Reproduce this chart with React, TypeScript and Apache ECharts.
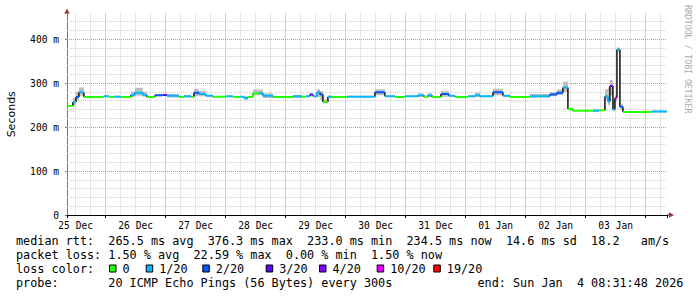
import React, { useEffect, useRef } from 'react';
import * as echarts from 'echarts';

// time in hours after 25 Dec 00:00; window = 25 Dec 08:31:48 .. 04 Jan 08:31:48
const T_START = 8.53;
const T_END = 248.53;
const Y_MAX = 458;

const dayLabels = ['25 Dec', '26 Dec', '27 Dec', '28 Dec', '29 Dec', '30 Dec', '31 Dec', '01 Jan', '02 Jan', '03 Jan'];

// median RTT steps (start hour, ms, loss count out of 20, smoke low/high ms)
const segStart = [8.53, 10.9, 12.1, 13.3, 15.3, 23.3, 25.3, 27.3, 30.1, 34.1,
  35.7, 38.9, 40.5, 43.7, 46.9, 48.5, 53.3, 55.3, 58.1, 59.3,
  61.3, 64.1, 66.9, 72.1, 74.9, 77.7, 79.3, 80.9, 82.9, 85.3,
  86.9, 90.9, 98.9, 102.5, 104.1, 105.7, 106.9, 108.5, 109.7, 110.9,
  112.9, 114.5, 120.5, 131.7, 135.7, 139.7, 143.7, 148.9, 151.3, 152.9,
  154.5, 158.1, 161.3, 163.7, 168.9, 171.7, 173.7, 178.9, 182.9, 185.7,
  193.7, 201.7, 204.5, 206.9, 208.9, 210.9, 218.9, 221.3, 223.7, 224.9,
  225.7, 226.9, 227.7, 228.5, 229.7, 230.9, 242.5];
const median = [248, 257, 268, 279, 268, 270, 268, 269, 268, 273,
  278, 273, 268, 272, 273, 271, 268, 270, 268, 278,
  275, 271, 269, 270, 268, 269, 266, 268, 277, 277,
  271, 268, 270, 269, 270, 274, 270, 279, 274, 257,
  269, 268, 269, 279, 270, 268, 270, 272, 269, 272,
  268, 275, 271, 268, 270, 272, 270, 279, 271, 268,
  270, 274, 278, 290, 241, 237, 237, 238, 270, 258,
  293, 240, 266, 376, 246, 234, 235];
const lossLevel = [0, 1, 2, 1, 0, 1, 0, 1, 0, 1,
  1, 1, 0, 2, 3, 1, 0, 1, 0, 2,
  1, 1, 0, 1, 0, 1, 1, 0, 0, 1,
  1, 0, 1, 0, 1, 3, 1, 1, 2, 0,
  1, 0, 1, 2, 1, 0, 1, 1, 0, 1,
  0, 2, 1, 0, 1, 1, 1, 2, 1, 0,
  1, 2, 2, 1, 0, 0, 1, 0, 1, 1,
  3, 1, 10, 1, 2, 0, 1];
const smokeLo = [246, 250, 260, 271, 268, 268, 268, 268, 268, 268,
  271, 269, 268, 270, 271, 267, 268, 267, 268, 270,
  270, 269, 269, 269, 268, 268, 262, 268, 272, 272,
  266, 268, 266, 269, 269, 272, 269, 268, 262, 254,
  266, 268, 267, 272, 268, 268, 269, 268, 269, 268,
  268, 269, 269, 268, 269, 268, 269, 272, 269, 268,
  267, 270, 273, 280, 238, 237, 235, 238, 262, 250,
  272, 236, 258, 370, 240, 233, 233];
const smokeHi = [250, 266, 280, 290, 268, 272, 268, 271, 268, 280,
  289, 280, 268, 274, 275, 275, 268, 273, 268, 287,
  282, 273, 269, 271, 268, 270, 270, 268, 285, 285,
  276, 268, 273, 269, 271, 276, 271, 286, 282, 262,
  271, 268, 271, 286, 272, 268, 271, 276, 269, 277,
  268, 281, 273, 268, 271, 278, 271, 287, 273, 268,
  275, 279, 285, 303, 243, 237, 240, 238, 286, 290,
  307, 260, 272, 381, 252, 235, 237];

const lossKeys = [0, 1, 2, 3, 4, 10, 19];
const lossLabels = ['0', '1/20', '2/20', '3/20', '4/20', '10/20', '19/20'];
const lossColors = ['#26ff00', '#00b8ff', '#0059ff', '#5e00ff', '#7e00ff', '#dd00ff', '#ff0000'];

const legendLines = [
  'median rtt:  265.5 ms avg  376.3 ms max  233.0 ms min  234.5 ms now  14.6 ms sd  18.2   am/s',
  'packet loss: 1.50 % avg  22.59 % max  0.00 % min  1.50 % now',
  'loss color:',
  ('probe:'.padEnd(13) + '20 ICMP Echo Pings (56 Bytes) every 300s').padEnd(65) + 'end: Sun Jan  4 08:31:48 2026',
];

const MONO = 'DejaVu Sans Mono';
const MAJOR_COLOR = '#e98080';
const MINOR_COLOR = '#cfcfcf';

function colorOf(l: number) {
  const k = lossKeys.indexOf(l);
  return k >= 0 ? lossColors[k] : '#000';
}
function spo(p: number) {
  const d = Math.round(p * 2);
  return (d + 1) % 2 === 0 ? d / 2 : (d + 1) / 2;
}

export default function App() {
  const ref = useRef<HTMLDivElement>(null);
  useEffect(() => {
    if (!ref.current) return;
    const chart = echarts.init(ref.current, undefined, { renderer: 'svg' });

    const items = segStart.map((t, i) => [
      t,
      i < segStart.length - 1 ? segStart[i + 1] : T_END,
      median[i],
      lossLevel[i],
      smokeLo[i],
      smokeHi[i],
      i > 0 ? median[i - 1] : median[i],
      i > 0 ? lossLevel[i - 1] : lossLevel[i],
    ]);
    const itemDims = ['t0', 't1', 'v', 'loss', 'lo', 'hi', 'pv', 'pl'];

    // grid line positions: every 6 h (major at midnight), every 20 ms (major every 100 ms)
    const vLines: number[][] = [];
    for (let h = Math.ceil(T_START / 6) * 6; h < T_END; h += 6) vLines.push([h, 0, h % 24 === 0 ? 1 : 0]);
    const hLines: number[][] = [];
    for (let v = 20; v < Y_MAX; v += 20) hLines.push([T_START, v, v % 100 === 0 ? 1 : 0]);

    const graphics: any[] = [];
    const CW = 7.1;
    const X0 = 16;
    const lineY = [240.7, 255, 269.3, 283.3];
    legendLines.forEach((s, li) => {
      const re = /\S+/g;
      let m: RegExpExecArray | null;
      while ((m = re.exec(s))) {
        graphics.push({
          type: 'text', x: X0 + m.index * CW, y: lineY[li], silent: true,
          style: { text: m[0], fontFamily: MONO, fontSize: 11.8, fill: '#000', verticalAlign: 'middle', align: 'left' },
        });
      }
    });
    const boxX = [109, 145.7, 202.3, 265.7, 319, 376.7, 433.3];
    lossLabels.forEach((lab, i) => {
      graphics.push({
        type: 'rect', silent: true,
        shape: { x: boxX[i] + 0.5, y: 265, width: 6.5, height: 7 },
        style: { fill: lossColors[i], stroke: '#000', lineWidth: 1 },
      });
      graphics.push({
        type: 'text', x: boxX[i] + 13.5, y: lineY[2], silent: true,
        style: { text: lab, fontFamily: MONO, fontSize: 11.8, fill: '#000', verticalAlign: 'middle', align: 'left' },
      });
    });
    // arrows
    graphics.push({ type: 'polygon', silent: true, shape: { points: [[64.3, 13.5], [69.7, 13.5], [67, 8.5]] }, style: { fill: '#a33' } });
    graphics.push({ type: 'line', silent: true, shape: { x1: 667, y1: 215, x2: 669.5, y2: 215 }, style: { stroke: '#000', lineWidth: 1 } });
    graphics.push({ type: 'polygon', silent: true, shape: { points: [[669, 212.3], [669, 217.7], [674, 215]] }, style: { fill: '#a33' } });
    graphics.push({
      type: 'text', x: 687.5, y: 5, rotation: -Math.PI / 2, silent: true,
      style: { text: 'RRDTOOL / TOBI OETIKER', fontFamily: MONO, fontSize: 8.2, fill: '#aaaaaa', align: 'left', verticalAlign: 'middle' },
    });

    const option: any = {
      animation: false,
      backgroundColor: '#ffffff',
      grid: { left: 67, right: 30, top: 13.5, bottom: 82, containLabel: false, outerBoundsMode: 'none' },
      xAxis: [
        {
          type: 'value', min: T_START, max: T_END, minInterval: 6, maxInterval: 6, position: 'bottom',
          axisLine: { show: true, onZero: false, lineStyle: { color: '#000', width: 1 } },
          axisTick: { show: false },
          axisLabel: {
            show: true, margin: 5, fontFamily: MONO, fontSize: 9.6, color: '#000',
            formatter: (v: number) => {
              const k = (v - 12) / 24;
              const r = Math.round(k);
              return Math.abs(k - r) < 1e-6 && dayLabels[r] ? dayLabels[r] : '';
            },
          },
          splitLine: { show: false },
        },
        {
          type: 'value', min: T_START, max: T_END, minInterval: 24, maxInterval: 24, position: 'bottom',
          axisLine: { show: false, onZero: false },
          axisTick: { show: true, length: 3, lineStyle: { color: '#000' } },
          axisLabel: { show: false },
          splitLine: { show: false },
        },
      ],
      yAxis: [
        {
          type: 'value', min: 0, max: Y_MAX, interval: 20, position: 'left',
          axisLine: { show: true, onZero: false, lineStyle: { color: '#777' } },
          axisTick: { show: false }, axisLabel: { show: false },
          splitLine: { show: false },
          name: 'Seconds', nameLocation: 'middle', nameGap: 50,
          nameTextStyle: { fontFamily: 'DejaVu Sans', fontSize: 11, color: '#000' },
        },
        {
          type: 'value', min: 0, max: Y_MAX, interval: 100, position: 'left',
          axisLine: { show: false, onZero: false },
          axisTick: { show: true, length: 2, lineStyle: { color: '#777' } },
          axisLabel: {
            margin: 8, fontFamily: MONO, fontSize: 9.6, color: '#000',
            formatter: (v: number) => (v % 100 !== 0 ? '' : v === 0 ? '0' : v + ' m'),
          },
          splitLine: { show: false },
        },
      ],
      series: [
        {
          type: 'custom', coordinateSystem: 'cartesian2d', xAxisIndex: 0, yAxisIndex: 0,
          dimensions: ['x', 'y', 'major'],
          data: vLines, encode: { x: 0, y: 1 }, clip: false, silent: true, z: 1,
          renderItem: (params: any, api: any) => {
            const t = api.value(0);
            const major = Number(api.value(2)) === 1;
            const a = api.coord([t, Y_MAX]);
            const b = api.coord([t, 0]);
            const x = spo(a[0]);
            return { type: 'line', z2: major ? 2 : 1, shape: { x1: x, y1: a[1], x2: x, y2: b[1] }, style: { stroke: major ? MAJOR_COLOR : MINOR_COLOR, lineWidth: 1, lineDash: [1, 1] } };
          },
        },
        {
          type: 'custom', coordinateSystem: 'cartesian2d', xAxisIndex: 0, yAxisIndex: 0,
          dimensions: ['x', 'y', 'major'],
          data: hLines, encode: { x: 0, y: 1 }, clip: false, silent: true, z: 1,
          renderItem: (params: any, api: any) => {
            const v = api.value(1);
            const major = Number(api.value(2)) === 1;
            const a = api.coord([T_START, v]);
            const b = api.coord([T_END, v]);
            const y = spo(a[1]);
            return { type: 'line', z2: major ? 2 : 1, shape: { x1: a[0], y1: y, x2: b[0], y2: y }, style: { stroke: major ? MAJOR_COLOR : MINOR_COLOR, lineWidth: 1, lineDash: [1, 1] } };
          },
        },
        {
          type: 'custom', coordinateSystem: 'cartesian2d', xAxisIndex: 0, yAxisIndex: 0,
          dimensions: itemDims,
          data: items, encode: { x: [0, 1], y: [2, 4, 5] }, clip: true, silent: true, z: 2,
          renderItem: (params: any, api: any) => {
            const lo = api.value(4), hi = api.value(5);
            if (hi - lo <= 0) return { type: 'group', children: [] };
            const a = api.coord([api.value(0), hi]);
            const b = api.coord([api.value(1), lo]);
            return { type: 'rect', shape: { x: a[0], y: a[1], width: b[0] - a[0], height: b[1] - a[1] }, style: { fill: '#bdbdbd' } };
          },
        },
        {
          type: 'custom', coordinateSystem: 'cartesian2d', xAxisIndex: 0, yAxisIndex: 0,
          dimensions: itemDims,
          data: items, encode: { x: [0, 1], y: [2] }, clip: true, silent: true, z: 3,
          renderItem: (params: any, api: any) => {
            if (params.dataIndex === 0) return { type: 'group', children: [] };
            const a = api.coord([api.value(0), api.value(6)]);
            const b = api.coord([api.value(0), api.value(2)]);
            return { type: 'line', shape: { x1: a[0], y1: a[1], x2: b[0], y2: b[1] }, style: { stroke: '#111', lineWidth: 1.5 } };
          },
        },
        {
          type: 'custom', coordinateSystem: 'cartesian2d', xAxisIndex: 0, yAxisIndex: 0,
          dimensions: itemDims,
          data: items, encode: { x: [0, 1], y: [2] }, clip: true, silent: true, z: 4,
          renderItem: (params: any, api: any) => {
            const t0 = api.value(0), t1 = api.value(1), v = api.value(2), L = api.value(3);
            const pv = api.value(6), pL = api.value(7);
            const color = colorOf(L);
            const a = api.coord([t0, v]);
            const b = api.coord([t1, v]);
            const children: any[] = [
              { type: 'line', shape: { x1: a[0], y1: a[1], x2: b[0], y2: b[1] }, style: { stroke: color, lineWidth: 2 } },
            ];
            if (params.dataIndex > 0 && pL === L && pv !== v) {
              const c = api.coord([t0, pv]);
              children.push({ type: 'line', shape: { x1: a[0], y1: c[1], x2: a[0], y2: a[1] }, style: { stroke: color, lineWidth: 2 } });
            }
            return { type: 'group', children };
          },
        },
      ],
      graphic: graphics,
    };
    chart.setOption(option);
    return () => chart.dispose();
  }, []);
  return <div ref={ref} style={{ position: 'absolute', left: 0, top: 0, width: 697, height: 297 }} />;
}
